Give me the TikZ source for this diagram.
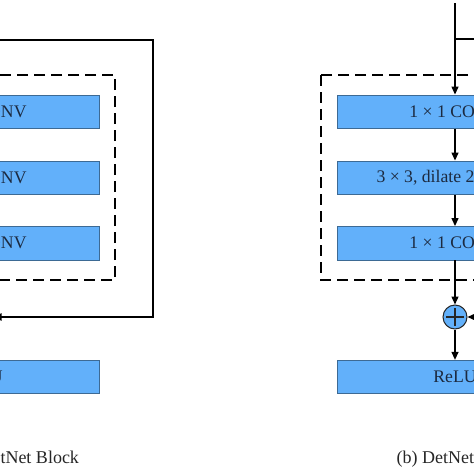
\documentclass[tikz,border=0pt]{standalone}
\usepackage{fontspec}
\setmainfont{Liberation Serif}
\usetikzlibrary{positioning,arrows.meta}
\definecolor{layerfill}{HTML}{62B0FA}
\definecolor{layeredge}{HTML}{3D6A94}
\definecolor{layertext}{HTML}{1C2A40}
\tikzset{
  layer/.style={draw=layeredge, fill=layerfill, line width=0.8pt, minimum width=236pt,
    minimum height=33.5pt, inner sep=0pt, text=layertext, font=\fontsize{17.7}{20}\selectfont},
  addnode/.style={circle, draw=black!85, fill=layerfill, line width=1pt, minimum size=24pt,
    inner sep=0pt, path picture={
      \draw[line width=1.1pt] ([xshift=-9pt]path picture bounding box.center)
        -- ([xshift=9pt]path picture bounding box.center)
        ([yshift=-9pt]path picture bounding box.center)
        -- ([yshift=9pt]path picture bounding box.center);}},
  flow/.style={-{Triangle[length=8pt,width=7pt]}, line width=1.3pt},
  shortcut/.style={line width=2pt},
  dashblock/.style={line width=2.3pt, dash pattern=on 11pt off 6pt},
  captext/.style={anchor=base west, text=black!85, font=\fontsize{18}{22}\selectfont}
}
\begin{document}
\begin{tikzpicture}[x=1pt,y=-1pt]
  \useasboundingbox (0,0) rectangle (474,474);
  \clip (0,0) rectangle (474,474);
  % (a)
  \coordinate (aIn) at (-19,3);
  \node (a1) [layer] at (-19,111.7) {1 × 1 CONV};
  \node (a2) [layer] at (-19,177.7) {3 × 3 CONV};
  \node (a3) [layer] at (-19,243.2) {1 × 1 CONV};
  \node (aAdd) [addnode] at (-19,317) {};
  \node (aRelu) [layer] at (-19,377) {ReLU};
  \coordinate (aFork) at (-19,40);
  \draw[flow] (aIn) -- (a1);
  \draw[flow] (a1) -- (a2);
  \draw[flow] (a2) -- (a3);
  \draw[flow] (a3) -- (aAdd);
  \draw[flow] (aAdd) -- (aRelu);
  \draw[shortcut, -{Triangle[length=8pt,width=7pt]}] (aFork) -| (153,317) -- (aAdd);
  \draw[dashblock] (-153,75) rectangle (115,280);
  \node (aCap) [captext] at (-48.5,463) {(a) DetNet Block};
  % (b)
  \coordinate (bIn) at (455,3);
  \node (b1) [layer] at (455,111.7) {1 × 1 CONV};
  \node (b2) [layer] at (455,177.7) {3 × 3, dilate 2, CONV};
  \node (b3) [layer] at (455,243.2) {1 × 1 CONV};
  \node (bAdd) [addnode] at (455,317) {};
  \node (bRelu) [layer] at (455,377) {ReLU};
  \coordinate (bFork) at (455,39);
  \draw[flow] (bIn) -- (b1);
  \draw[flow] (b1) -- (b2);
  \draw[flow] (b2) -- (b3);
  \draw[flow] (b3) -- (bAdd);
  \draw[flow] (bAdd) -- (bRelu);
  \draw[flow] (bFork) -| (627,317) -- (bAdd);
  \draw[dashblock] (321,75) rectangle (589,280);
  \node (bCap) [captext] at (393,463) {(b) DetNet Block};
\end{tikzpicture}
\end{document}
